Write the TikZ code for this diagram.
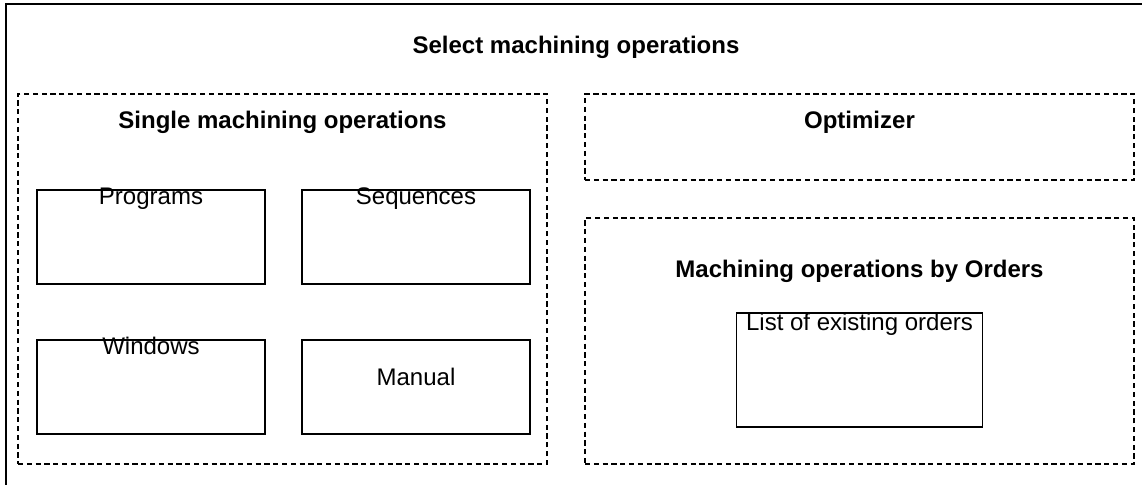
\documentclass[tikz,border=0pt]{standalone}
\usepackage{fontspec}
\setmainfont{Liberation Sans}
\usetikzlibrary{positioning}

\begin{document}
\begin{tikzpicture}[font=\fontsize{12}{14}\selectfont]

\def\BoxWidth{114pt}
\def\BoxHeight{47pt}
\def\HSpacing{18.5pt}
\def\VSpacing{28pt}

% Styles
\tikzstyle{frame} =
	[draw, line width=0.6pt, inner sep=0pt, outer sep=0pt]

\tikzstyle{group} =
	[frame, dash pattern=on 2.6pt off 1.8pt]

\tikzstyle{box} =
	[frame, minimum width=\BoxWidth, minimum height=\BoxHeight]

\tikzstyle{heading} =
	[font=\fontsize{12}{14}\selectfont\bfseries, anchor=base, inner sep=0pt]

\tikzstyle{caption} =
	[anchor=base, inner sep=0pt]

\useasboundingbox (0,0) rectangle (571pt,-242pt);
\clip (0,0) rectangle (571pt,-242pt);

% Groups

\node (SelectOps) at (3pt,-2pt)
	[frame, anchor=north west, minimum width=570pt, minimum height=260pt,
	 label={[heading, yshift=-24.5pt]north:Select machining operations}] {};

\node (SingleOps)
	[group, minimum width=264.5pt, minimum height=185pt,
	 below right=45pt and 6pt of SelectOps.north west,
	 label={[heading, yshift=-17pt]north:Single machining operations}] {};

\node (Optimizer)
	[group, minimum width=274.5pt, minimum height=43pt,
	 below right=0pt and 19pt of SingleOps.north east,
	 label={[heading, yshift=-17pt]north:Optimizer}] {};

\node (OrdersOps)
	[group, minimum width=274.5pt, minimum height=123pt, below=19pt of Optimizer,
	 label={[heading, yshift=-29.5pt]north:Machining operations by Orders}] {};

% Boxes

\node (Programs)
	[box, below right=48pt and 9.5pt of SingleOps.north west,
	 label={[caption, yshift=-7pt]north:Programs}] {};
\node (Sequences) [box, right=\HSpacing of Programs,
	 label={[caption, yshift=-7pt]north:Sequences}] {};
\node (Windows) [box, below=\VSpacing of Programs,
	 label={[caption, yshift=-7pt]north:Windows}] {};
\node (Manual) [box, right=\HSpacing of Windows,
	 label={[caption, yshift=-22.5pt]north:Manual}] {};

\node (ExistingOrders)
	[box, minimum width=123pt, minimum height=57pt, below=47.5pt of OrdersOps.north,
	 label={[caption, yshift=-8.5pt]north:List of existing orders}] {};

\end{tikzpicture}
\end{document}
